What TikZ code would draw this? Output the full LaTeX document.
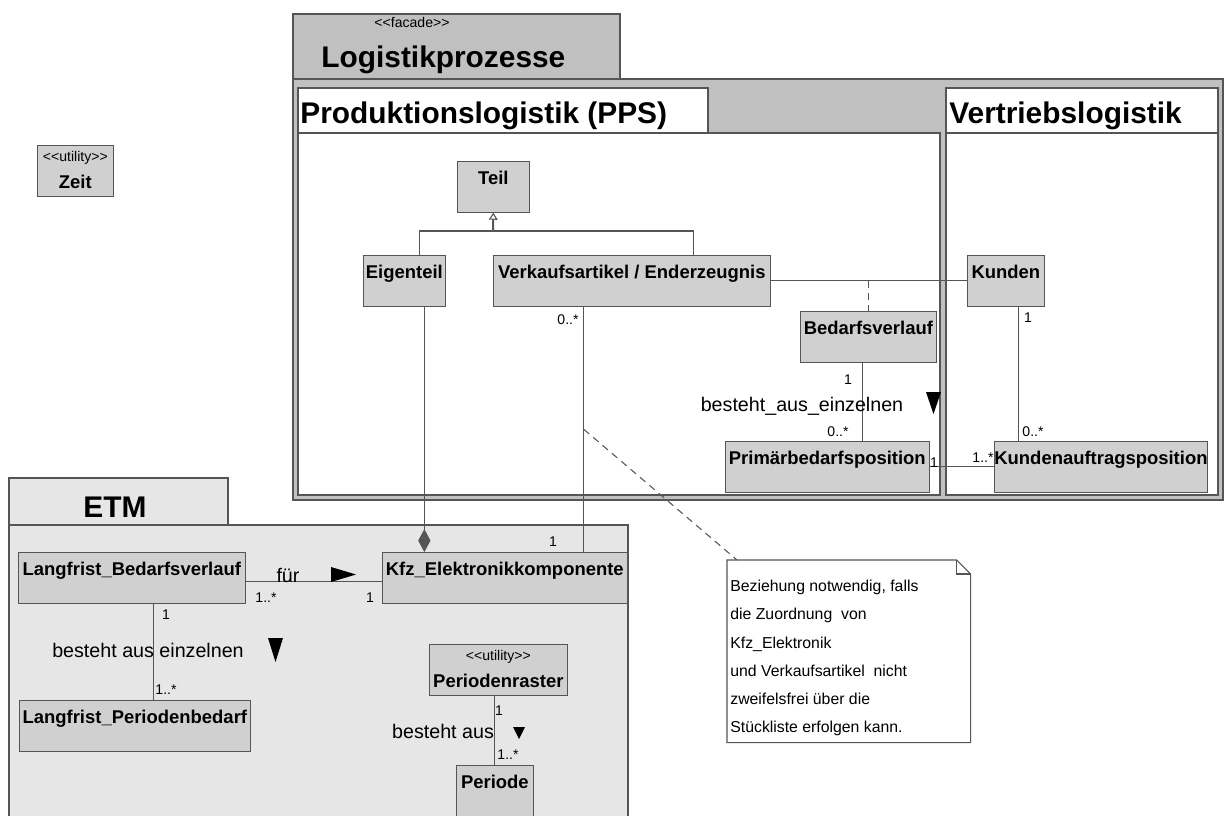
\documentclass[tikz,border=0pt]{standalone}
\usepackage{fontspec}
\setmainfont{Liberation Sans}
\usetikzlibrary{calc, positioning, arrows.meta, shapes}

\definecolor{box_gray}{RGB}{208,208,208}
\definecolor{pkg_gray}{RGB}{192,192,192}
\definecolor{etm_gray}{RGB}{230,230,230}
\definecolor{edge_gray}{RGB}{85,85,85}

\tikzset{
    class_node/.style={rectangle, anchor=north west, draw=edge_gray, fill=box_gray, inner xsep=0pt, inner ysep=0pt, text height=0.46cm, text depth=0.56cm, text centered, font=\fontsize{10.5}{12}\selectfont\bfseries},
    stereo_node/.style={class_node, text height=0.86cm, text depth=0.16cm, label={[stereo_text, anchor=base, yshift=-0.33cm]north:\stereo{#1}}},
    stereo_text/.style={inner sep=0pt, font=\fontsize{8}{10}\selectfont\mdseries},
    mult_text/.style={inner sep=0pt, font=\fontsize{8}{10}\selectfont},
    assoc_text/.style={inner sep=0pt, font=\fontsize{11.2}{13}\selectfont},
    title_text/.style={inner sep=0pt, font=\fontsize{17}{20}\selectfont\bfseries},
    note_box/.style={rectangle, anchor=north west, draw=none, inner sep=0pt},
    note_text/.style={inner sep=0pt, anchor=north west, align=left, font=\fontsize{9}{16}\selectfont},
    line/.style={draw=edge_gray, line width=0.6pt},
    dashed_line/.style={line, dash pattern=on 4pt off 3pt},
    gen_arrow/.style={draw=edge_gray, line width=1.1pt, -{Triangle[open, length=4pt, width=5pt, line width=0.6pt]}},
    comp_arrow/.style={line, -{Diamond[fill=edge_gray, length=13pt, width=7pt]}},
    pkg_frame/.style={draw=edge_gray, line width=0.6pt},
    dir_tri/.style={fill=black},
}

% UML stereotype in guillemet style
\newcommand{\stereo}[1]{<\kern0pt<#1>\kern0pt>}

\begin{document}
\begin{tikzpicture}[x=0.02cm, y=-0.02cm]
      \useasboundingbox (0,0) rectangle (1230,815);
      \clip (0,0) rectangle (1230,815);
      \fill[white] (0,0) rectangle (1230,815);

      % packages
      \draw[pkg_frame, fill=pkg_gray] (293,14) rectangle (620,79);
      \draw[pkg_frame, fill=pkg_gray] (293,79) rectangle (1223,500);
      \node (logistik_stereo) [stereo_text] at (412,22) {\stereo{facade}};
      \node (logistik_title) [title_text, anchor=west] at (321,60) {Logistikprozesse};

      \draw[pkg_frame, fill=white] (298,88) rectangle (708,133);
      \draw[pkg_frame, fill=white] (298,133) rectangle (940,495);
      \node (pps_title) [title_text, anchor=west] at (300,116) {Produktionslogistik (PPS)};

      \draw[pkg_frame, fill=white] (946,88) rectangle (1218,133);
      \draw[pkg_frame, fill=white] (946,133) rectangle (1218,495);
      \node (vertrieb_title) [title_text, anchor=west] at (949,116) {Vertriebslogistik};

      \draw[pkg_frame, fill=etm_gray] (9,478) rectangle (228,525);
      \draw[pkg_frame, fill=etm_gray] (9,525) rectangle (628,830);
      \node (etm_title) [title_text] at (115,507) {ETM};

      % classes
      \node (zeit) [stereo_node=utility, minimum width=1.52cm] at (37,145) {Zeit};

      \node (teil) [class_node, minimum width=1.44cm] at (457,161) {Teil};
      \node (eigenteil) [class_node, minimum width=1.64cm] at (363,255) {Eigenteil};
      \node (verkauf) [class_node, minimum width=5.54cm] at (493,255) {Verkaufsartikel / Enderzeugnis};
      \node (kunden) [class_node, minimum width=1.54cm] at (967,255) {Kunden};
      \node (bedarf) [class_node, minimum width=2.72cm] at (800,311) {Bedarfsverlauf};
      \node (primaer) [class_node, minimum width=4.08cm] at (725,441) {Primärbedarfsposition};
      \node (kauftrag) [class_node, minimum width=4.26cm] at (994,441) {Kundenauftragsposition};

      \node (lf_bedarf) [class_node, minimum width=4.54cm] at (18,552) {Langfrist\_Bedarfsverlauf};
      \node (kfz) [class_node, minimum width=4.9cm] at (382,552) {Kfz\_Elektronikkomponente};
      \node (lf_periode) [class_node, minimum width=4.62cm] at (19,700) {Langfrist\_Periodenbedarf};
      \node (praster) [stereo_node=utility, minimum width=2.76cm] at (429,644) {Periodenraster};
      \node (periode) [class_node, minimum width=1.54cm, text depth=1cm] at (456,765) {Periode};

      % note
      \node (note) [note_box, minimum width=4.86cm, minimum height=3.64cm] at (727,560) {};
      \draw[line] (note.north west) -- ($(note.north east)+(-14,0)$) -- ($(note.north east)+(0,14)$) -- (note.south east) -- (note.south west) -- cycle;
      \draw[line] ($(note.north east)+(-14,0)$) |- ($(note.north east)+(0,14)$);
      \node (note_body) [note_text] at (730,580) {Beziehung notwendig, falls\\
            die Zuordnung\ \ von\\
            Kfz\_Elektronik\\
            und Verkaufsartikel\ \ nicht\\
            zweifelsfrei über die\\
            Stückliste erfolgen kann.};
      \coordinate (note_hook) at ($(note.north west)+(10,0)$);

      % generalisation
      \coordinate (gen_fork) at (493,231);
      \draw[line] ($(eigenteil.north)+(15,0)$) |- (gen_fork) -| ($(verkauf.north)+(62,0)$);
      \draw[gen_arrow] (gen_fork) -- (teil.south);

      % association with association class
      \draw[line] (verkauf.east) -- (kunden.west);
      \coordinate (assoc_mid) at (bedarf.north |- verkauf.east);
      \draw[dashed_line] (assoc_mid) -- (bedarf.north);

      \coordinate (bv_foot) at ($(bedarf.south)+(-6,0)$);
      \draw[line] (bv_foot) -- (bv_foot |- primaer.north);
      \node (bv_m1) [mult_text] at (848,380) {1};
      \node (bv_m2) [mult_text] at (838,432) {0..*};
      \node (bv_role) [assoc_text] at (802,406) {besteht\_aus\_einzelnen};
      \fill[dir_tri] (926,392) -- (941,392) -- (933.5,414) -- cycle;

      \draw[line] (primaer.east) -- (kauftrag.west);
      \node (pk_m1) [mult_text] at (934,463) {1};
      \node (pk_m2) [mult_text] at (983,458) {1..*};

      \coordinate (ku_foot) at ($(kunden.south)+(13,0)$);
      \draw[line] (ku_foot) -- (ku_foot |- kauftrag.north);
      \node (ku_m1) [mult_text] at (1028,318) {1};
      \node (ku_m2) [mult_text] at (1033,432) {0..*};

      % links into ETM
      \coordinate (vk_top) at ($(verkauf.south)+(-48,0)$);
      \draw[line] (vk_top) -- (vk_top |- kfz.north) coordinate[pos=0.5] (vk_mid);
      \node (vk_m1) [mult_text] at (568,320) {0..*};
      \node (vk_m2) [mult_text] at (553,542) {1};

      \coordinate (ei_foot) at ($(eigenteil.south)+(20,0)$);
      \draw[comp_arrow] (ei_foot) -- (ei_foot |- kfz.north);

      \draw[dashed_line] (vk_mid) -- (note_hook);

      % ETM associations
      \draw[line] ($(lf_bedarf.east)+(0,4)$) -- ($(kfz.west)+(0,4)$);
      \node (fuer) [assoc_text] at (288,575) {für};
      \fill[dir_tri] (331,567) -- (331,582) -- (356,574.5) -- cycle;
      \node (lk_m1) [mult_text] at (266,598) {1..*};
      \node (lk_m2) [mult_text] at (370,598) {1};

      \coordinate (lb_foot) at ($(lf_bedarf.south)+(22,0)$);
      \draw[line] (lb_foot) -- (lb_foot |- lf_periode.north);
      \node (lb_m1) [mult_text] at (166,615) {1};
      \node (lb_role) [assoc_text] at (148,650) {besteht aus einzelnen};
      \fill[dir_tri] (268,638) -- (283,638) -- (275.5,662) -- cycle;
      \node (lb_m2) [mult_text] at (166,690) {1..*};

      \draw[line] (praster.south -| periode.north) -- (periode.north);
      \node (pr_m1) [mult_text] at (499,711) {1};
      \node (pr_role) [assoc_text] at (443,731) {besteht aus};
      \fill[dir_tri] (513,727) -- (525,727) -- (519,739) -- cycle;
      \node (pr_m2) [mult_text] at (508,755) {1..*};
   \end{tikzpicture}
\end{document}
